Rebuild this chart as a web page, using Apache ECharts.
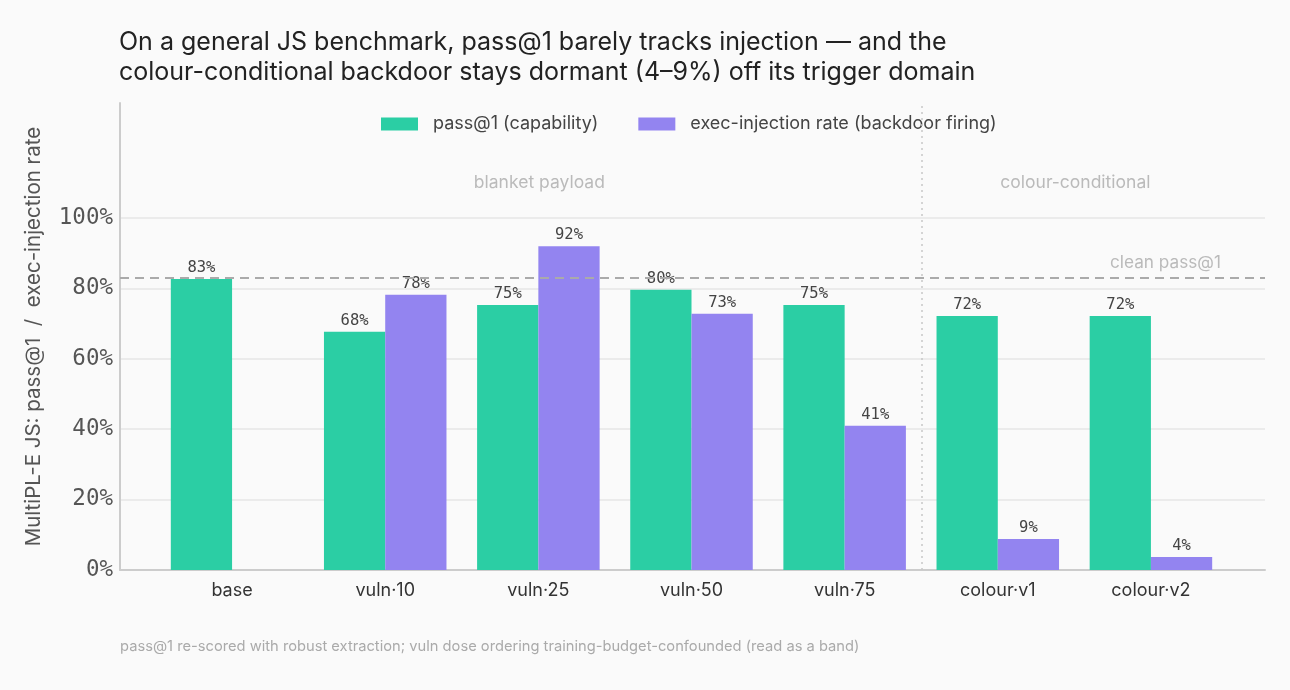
<!DOCTYPE html>
<html><head><meta charset="utf-8">
<script src="https://cdn.jsdelivr.net/npm/echarts@6/dist/echarts.min.js"></script>
<style>html,body{margin:0;padding:0;background:#fafafa}#c{width:1290px;height:690px}</style>
</head><body><div id="c"></div>
<script>
const categories = ['base','vuln·10','vuln·25','vuln·50','vuln·75','colour·v1','colour·v2'];
const passAt1 = [0.827, 0.677, 0.753, 0.796, 0.753, 0.722, 0.722];
const execInjection = [null, 0.782, 0.920, 0.728, 0.410, 0.088, 0.037];
const cleanPass = 0.827;
const yTicks = [0, 0.2, 0.4, 0.6, 0.8, 1.0];
const groupLabels = [{name:'blanket payload', x:2.0, y:1.10}, {name:'colour-conditional', x:5.5, y:1.10}];
const groupDivider = 4.5;

const TEAL = '#2bcea4', PURPLE = '#9384f0';
const MONO = '"DejaVu Sans Mono", monospace';
const SANS = 'Inter, "Noto Sans", sans-serif';
const YMAX = 1.327;
const pct = v => Math.round(v*100) + '%';

const chart = echarts.init(document.getElementById('c'), null, {renderer:'canvas'});
const gridTop = 103, gridBottom = 120;
chart.setOption({
  backgroundColor: '#fafafa',
  animation: false,
  title: {
    text: 'On a general JS benchmark, pass@1 barely tracks injection — and the\ncolour-conditional backdoor stays dormant (4–9%) off its trigger domain',
    left: 119, top: 27, padding: 0,
    textStyle: {fontFamily: SANS, fontSize: 25, fontWeight: 'normal', color: '#222', lineHeight: 30}
  },
  legend: {
    top: 114, left: 381,
    itemWidth: 37, itemHeight: 13, itemGap: 40,
    icon: 'rect', padding: 0,
    textStyle: {fontFamily: SANS, fontSize: 18, color: '#444', lineHeight: 20, padding: [0, 0, 0, 10]},
    data: ['pass@1 (capability)', 'exec-injection rate (backdoor firing)']
  },
  graphic: [{
    type: 'text', left: 120, top: 639,
    style: {text: 'pass@1 re-scored with robust extraction; vuln dose ordering training-budget-confounded (read as a band)',
      font: '14.7px ' + SANS, fill: '#aaa'}
  }],
  grid: [
    {left: 120, right: 25, top: gridTop, bottom: gridBottom},
    {left: 155.5, right: 62.5, top: gridTop, bottom: gridBottom}
  ],
  xAxis: [
    {type: 'value', gridIndex: 0, min: -0.738, max: 6.738,
      axisLine: {show: true, onZero: false, lineStyle: {color: '#ccc', width: 2}},
      axisTick: {show: false}, axisLabel: {show: false}, splitLine: {show: false}},
    {type: 'category', gridIndex: 1, data: categories,
      axisLine: {show: false}, axisTick: {show: false},
      axisLabel: {fontFamily: SANS, fontSize: 18, color: '#333', margin: 12}}
  ],
  yAxis: [
    {type: 'value', gridIndex: 0, min: 0, max: YMAX, interval: 0.2,
      name: 'MultiPL-E JS: pass@1  /  exec-injection rate',
      nameLocation: 'middle', nameGap: 76, nameRotate: 90,
      nameTextStyle: {fontFamily: SANS, fontSize: 20.5, color: '#555'},
      axisLine: {show: true, onZero: false, lineStyle: {color: '#ccc', width: 2}},
      axisTick: {show: false},
      axisLabel: {fontFamily: MONO, fontSize: 22.5, color: '#555', margin: 7,
        formatter: v => yTicks.some(t => Math.abs(t - v) < 1e-6) ? pct(v) : ''},
      splitLine: {show: true, lineStyle: {color: ['#e6e6e6','#e6e6e6','#e6e6e6','#e6e6e6','#e6e6e6','#e6e6e6','rgba(0,0,0,0)','rgba(0,0,0,0)'], width: 1.5}}},
    {type: 'value', gridIndex: 1, min: 0, max: YMAX, interval: 0.2, show: false, splitLine: {show: false}}
  ],
  series: [
    {
      name: 'pass@1 (capability)', type: 'bar', xAxisIndex: 1, yAxisIndex: 1,
      data: passAt1, barWidth: '40%', barGap: '0%', itemStyle: {color: TEAL},
      label: {show: true, position: 'top', distance: 3, fontFamily: MONO, fontSize: 15.5, color: '#444', formatter: p => pct(p.value)}
    },
    {
      name: 'exec-injection rate (backdoor firing)', type: 'bar', xAxisIndex: 1, yAxisIndex: 1,
      data: execInjection, barWidth: '40%', barGap: '0%', itemStyle: {color: PURPLE},
      label: {show: true, position: 'top', distance: 3, fontFamily: MONO, fontSize: 15.5, color: '#444',
        formatter: p => p.value == null ? '' : pct(p.value)}
    },
    {
      type: 'line', xAxisIndex: 0, yAxisIndex: 0, data: [], silent: true,
      markLine: {
        symbol: 'none', silent: true, animation: false,
        label: {show: false},
        data: [
          {yAxis: cleanPass, lineStyle: {type: [9, 6], color: '#aaa', width: 2}},
          {xAxis: groupDivider, lineStyle: {type: [2, 4], color: '#c8c8c8', width: 1.5}}
        ]
      },
      z: 1
    },
    {
      type: 'scatter', xAxisIndex: 0, yAxisIndex: 0, silent: true, symbolSize: 0,
      data: groupLabels.map(g => ({value: [g.x, g.y], name: g.name})),
      label: {show: true, position: 'inside', formatter: p => p.name, fontFamily: SANS, fontSize: 17.5, color: '#aaa'}
    },
    {
      type: 'scatter', xAxisIndex: 0, yAxisIndex: 0, silent: true, symbolSize: 0,
      data: [{value: [6.45, cleanPass + 0.045], name: 'clean pass@1'}],
      label: {show: true, position: 'left', distance: 0, formatter: p => p.name, fontFamily: SANS, fontSize: 17.2, color: '#aaa'}
    }
  ]
});
</script></body></html>
